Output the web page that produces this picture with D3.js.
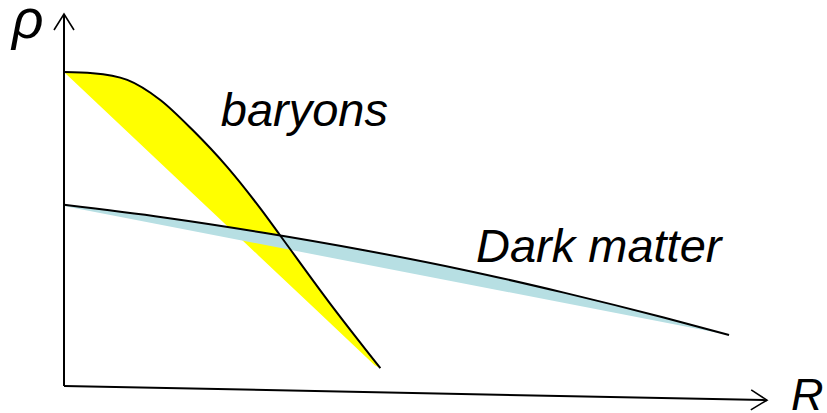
<!DOCTYPE html>
<html lang="en">
<head>
    <meta charset="UTF-8">
    <title>Density profiles</title>
    <script src="https://d3js.org/d3.v7.min.js"></script>
    <style>
        body {
            margin: 0;
            padding: 0;
            background: #fff;
        }
        svg text {
            font-family: "Liberation Sans", Arial, sans-serif;
            font-style: italic;
            fill: #000;
        }
    </style>
</head>
<body>
    <svg id="chart" width="827" height="413"></svg>

    <script>
        // Values (R and rho in arbitrary units, 0..10)
        const baryonTop = [
            [0, 8.44], [0.41, 8.41], [0.90, 8.23], [1.37, 7.69], [1.83, 6.88],
            [2.32, 5.89], [2.79, 4.78], [3.07, 4.06], [3.78, 2.23], [4.50, 0.48]
        ];
        const baryonBottom = [
            [0, 8.44], [2.08, 4.73], [4.42, 0.56]
        ];
        const darkTop = [
            [0, 4.87], [1.42, 4.53], [2.84, 4.12], [4.27, 3.65], [5.69, 3.12],
            [7.11, 2.51], [8.53, 1.84], [9.46, 1.37]
        ];
        const darkBottom = [
            [0, 4.84], [9.17, 1.48]
        ];
        const xAxisEnd = [10, -0.38];
        const yAxisEnd = [0, 10];
        const labels = [
            { text: "baryons", R: 2.23, rho: 6.98 },
            { text: "Dark matter", R: 5.86, rho: 3.32 }
        ];

        const svg = d3.select("#chart");

        const x = d3.scaleLinear().domain([0, 10]).range([64, 767]);
        const y = d3.scaleLinear().domain([0, 10]).range([386, 14]);

        const smooth = d3.line()
            .x(d => x(d[0]))
            .y(d => y(d[1]))
            .curve(d3.curveMonotoneX);

        // band = smooth upper edge, then lower edge back to the start
        function band(top, bottom) {
            const back = smooth(bottom.slice().reverse());
            return smooth(top) + "L" + back.slice(1) + "Z";
        }

        // open arrow head for both axes
        svg.append("defs").append("marker")
            .attr("id", "arrow")
            .attr("markerUnits", "userSpaceOnUse")
            .attr("viewBox", "-20 -14 22 28")
            .attr("refX", 0)
            .attr("refY", 0)
            .attr("markerWidth", 22)
            .attr("markerHeight", 28)
            .attr("orient", "auto")
            .append("path")
            .attr("d", "M-16,-10L0,0L-16,10")
            .attr("fill", "none")
            .attr("stroke", "#000")
            .attr("stroke-width", 1.6);

        // fills
        svg.append("path")
            .attr("d", band(baryonTop, baryonBottom))
            .attr("fill", "#ffff00");

        svg.append("path")
            .attr("d", band(darkTop, darkBottom))
            .attr("fill", "#b7dfe3");

        // axes
        svg.append("line")
            .attr("x1", x(0)).attr("y1", y(0))
            .attr("x2", x(yAxisEnd[0])).attr("y2", y(yAxisEnd[1]))
            .attr("stroke", "#000")
            .attr("stroke-width", 2)
            .attr("marker-end", "url(#arrow)");

        svg.append("line")
            .attr("x1", x(0)).attr("y1", y(0))
            .attr("x2", x(xAxisEnd[0])).attr("y2", y(xAxisEnd[1]))
            .attr("stroke", "#000")
            .attr("stroke-width", 2)
            .attr("marker-end", "url(#arrow)");

        // curves
        svg.append("path")
            .attr("d", smooth(baryonTop))
            .attr("fill", "none")
            .attr("stroke", "#000")
            .attr("stroke-width", 2);

        svg.append("path")
            .attr("d", smooth(darkTop))
            .attr("fill", "none")
            .attr("stroke", "#000")
            .attr("stroke-width", 2);

        // labels
        svg.selectAll(".label")
            .data(labels)
            .join("text")
            .attr("class", "label")
            .attr("x", d => x(d.R))
            .attr("y", d => y(d.rho))
            .attr("font-size", 47)
            .text(d => d.text);

        svg.append("text")
            .attr("x", x(0) - 52)
            .attr("y", y(yAxisEnd[1]) + 24)
            .attr("font-size", 55)
            .text("ρ");

        svg.append("text")
            .attr("x", x(xAxisEnd[0]) + 24)
            .attr("y", y(xAxisEnd[1]) + 10)
            .attr("font-size", 45)
            .text("R");
    </script>
</body>
</html>
